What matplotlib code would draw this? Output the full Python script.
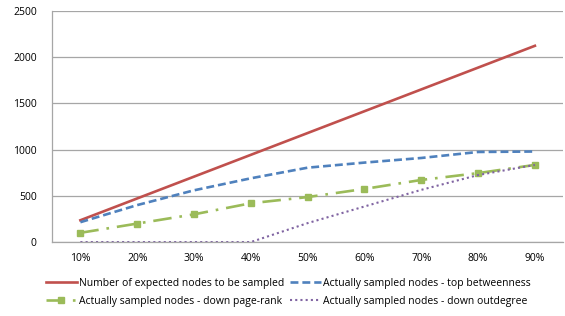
import matplotlib
matplotlib.use("Agg")
import matplotlib.pyplot as plt

categories = ["10%", "20%", "30%", "40%", "50%", "60%", "70%", "80%", "90%"]
expected = [236, 472, 708, 944, 1180, 1416, 1652, 1888, 2124]
top_betweenness = [215, 400, 560, 690, 805, 860, 910, 975, 980]
down_pagerank = [100, 200, 300, 420, 487, 575, 672, 746, 835]
down_outdegree = [0, 0, 0, 0, 205, 385, 565, 725, 835]
labels = ["Number of expected nodes to be sampled",
          "Actually sampled nodes - top betweenness",
          "Actually sampled nodes - down page-rank",
          "Actually sampled nodes - down outdegree"]
yticks = [0, 500, 1000, 1500, 2000, 2500]

plt.rcParams['font.family'] = ['Open Sans', 'DejaVu Sans']
fig = plt.figure(figsize=(5.65, 3.16), dpi=100)
ax = fig.add_axes([0.092, 0.234, 0.905, 0.731])
x = list(range(len(categories)))

l1, = ax.plot(x, expected, color="#C0504D", lw=1.9, label=labels[0])
l2, = ax.plot(x, top_betweenness, color="#4F81BD", lw=1.9, ls=(0, (3, 1.5)), label=labels[1])
l3, = ax.plot(x, down_pagerank, color="#9BBB59", lw=1.9, ls=(0, (7, 3, 1, 3)),
              marker="s", ms=5, mec="#9BBB59", mfc="#9BBB59", label=labels[2])
l4, = ax.plot(x, down_outdegree, color="#8064A2", lw=1.5, ls=(0, (1, 1.5)), label=labels[3])

ax.set_xlim(-0.5, 8.5)
ax.set_ylim(0, 2500)
ax.set_yticks(yticks)
ax.set_yticklabels([str(v) for v in yticks], fontsize=7.5)
ax.set_xticks(x)
ax.set_xticklabels(categories, fontsize=7.5)
ax.tick_params(axis='both', length=0, pad=8)
ax.tick_params(axis='y', pad=11)
ax.grid(axis='y', color="#A6A6A6", lw=0.9)
ax.set_axisbelow(True)
for s in ["top", "right"]:
    ax.spines[s].set_visible(False)
for s in ["left", "bottom"]:
    ax.spines[s].set_color("#A6A6A6")
    ax.spines[s].set_linewidth(0.9)

fig.legend(handles=[l1, l3, l2, l4], loc="center", bbox_to_anchor=(0.51, 0.075),
           ncol=2, frameon=False, fontsize=7.5, handlelength=3, handletextpad=0.15,
           columnspacing=0.6, labelspacing=0.65)

fig.savefig("out.png", dpi=100)
